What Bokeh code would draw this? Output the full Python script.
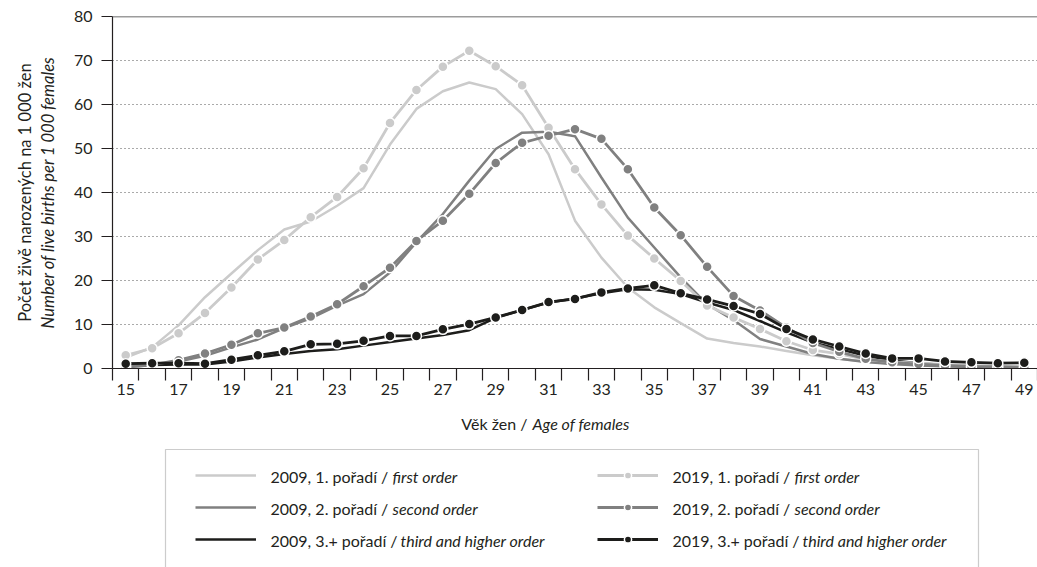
from bokeh.plotting import figure
from bokeh.layouts import column
from bokeh.models import (FixedTicker, Legend, LegendItem, Label, Span, Range1d,
                          LinearAxis, BoxAnnotation)
from bokeh.embed import file_html
from bokeh.resources import INLINE

# ---------------- data ----------------
ages = list(range(15, 50))
x_tick_labels = list(range(15, 50, 2))
y_ticks = list(range(0, 81, 10))

y2009_first = [2.5, 4.8, 9.8, 16.2, 21.6, 26.9, 31.6, 33.4, 37.0, 41.0, 50.9, 59.0,
               63.0, 65.0, 63.5, 57.8, 48.7, 33.6, 25.2, 18.4, 13.9, 10.3, 6.8, 5.8,
               5.0, 4.0, 3.0, 2.2, 1.6, 1.1, 0.8, 0.5, 0.3, 0.2, 0.1]
y2009_second = [0.3, 0.8, 1.6, 2.9, 4.8, 6.6, 9.2, 11.4, 14.3, 16.9, 21.8, 28.7,
                35.1, 42.7, 49.9, 53.6, 53.8, 52.8, 43.4, 34.3, 27.5, 20.7, 14.6, 11.0,
                6.7, 5.0, 3.3, 2.2, 1.5, 1.0, 0.7, 0.5, 0.3, 0.2, 0.1]
y2009_third = [0.8, 0.8, 0.9, 0.9, 1.6, 2.5, 3.3, 4.0, 4.4, 5.2, 6.0, 6.8,
               7.6, 8.7, 11.5, 13.3, 15.0, 15.9, 17.1, 18.0, 17.9, 16.9, 15.0, 13.3,
               10.8, 8.2, 5.9, 4.4, 2.9, 1.8, 1.2, 0.8, 0.5, 0.3, 0.2]
y2019_first = [3.0, 4.6, 8.0, 12.6, 18.4, 24.8, 29.2, 34.4, 39.0, 45.5, 55.8, 63.3,
               68.6, 72.2, 68.7, 64.4, 54.7, 45.3, 37.3, 30.2, 25.0, 19.9, 14.3, 11.6,
               9.0, 6.2, 4.2, 3.3, 2.1, 1.5, 1.2, 0.9, 0.7, 0.5, 0.4]
y2019_second = [0.4, 0.8, 1.9, 3.4, 5.4, 8.0, 9.3, 11.8, 14.6, 18.7, 22.9, 29.0,
                33.6, 39.7, 46.7, 51.3, 52.9, 54.4, 52.2, 45.3, 36.6, 30.3, 23.1, 16.5,
                13.2, 9.3, 5.8, 3.8, 2.2, 1.4, 1.0, 0.7, 0.5, 0.4, 0.3]
y2019_third = [1.1, 1.2, 1.2, 1.1, 2.0, 3.0, 3.9, 5.5, 5.6, 6.3, 7.4, 7.4,
               8.9, 10.1, 11.6, 13.3, 15.1, 15.8, 17.3, 18.2, 18.9, 17.1, 15.7, 14.2,
               12.4, 9.0, 6.6, 5.0, 3.4, 2.3, 2.3, 1.6, 1.4, 1.2, 1.3]

legend_plain = ["2009, 1. pořadí / ", "2009, 2. pořadí / ", "2009, 3.+ pořadí / ",
                "2019, 1. pořadí / ", "2019, 2. pořadí / ", "2019, 3.+ pořadí / "]
legend_italic = ["first order", "second order", "third and higher order",
                 "first order", "second order", "third and higher order"]
y_title_plain = "Počet živě narozených na 1 000 žen"
y_title_italic = "Number of live births per 1 000 females"
x_title_plain = "Věk žen /"
x_title_italic = "Age of females"

# ---------------- style ----------------
FONT = "Lato"
TXT = "#231f20"
LIGHT = "#cbcbcb"
MID = "#808080"
DARK = "#1d1d1b"
FS = "16px"
FS_Y = "16.5px"
W = 1037
H1 = 410
H2 = 567 - H1

# ================= main chart =================
p = figure(width=W, height=H1, output_backend="svg", toolbar_location=None,
           x_range=Range1d(14.5, 49.5), y_range=Range1d(0, 80),
           min_border_left=112, min_border_right=0, min_border_top=16,
           min_border_bottom=H1 - 368)
p.frame_align = False
p.outline_line_color = None
p.background_fill_color = "white"
p.border_fill_color = "white"

p.xgrid.grid_line_color = None
p.ygrid.ticker = FixedTicker(ticks=y_ticks[1:-1])
p.ygrid.grid_line_color = "#555555"
p.ygrid.grid_line_width = 1
p.ygrid.grid_line_dash = "1 3"

p.xaxis.ticker = FixedTicker(ticks=x_tick_labels,
                             minor_ticks=[a - 0.5 for a in ages] + [ages[-1] + 0.5])
p.xaxis.major_tick_line_color = None
p.xaxis.major_tick_out = 12
p.xaxis.major_tick_in = 0
p.xaxis.minor_tick_out = 12
p.xaxis.minor_tick_in = 0
p.xaxis.minor_tick_line_color = TXT
p.xaxis.minor_tick_line_width = 1.2
p.xaxis.major_label_standoff = 3

p.yaxis.ticker = FixedTicker(ticks=y_ticks)
p.yaxis.major_tick_out = 11
p.yaxis.major_tick_in = 0
p.yaxis.minor_tick_line_color = None
p.yaxis.major_tick_line_color = TXT
p.yaxis.major_tick_line_width = 1.2
p.yaxis.major_label_standoff = 9
p.yaxis.axis_label = y_title_italic
p.yaxis.axis_label_text_font_style = "italic"
p.yaxis.axis_label_standoff = 13

for ax in (p.xaxis, p.yaxis):
    ax.axis_line_color = TXT
    ax.axis_line_width = 1.2
    ax.major_label_text_font = FONT
    ax.major_label_text_font_size = FS
    ax.major_label_text_color = TXT
    ax.axis_label_text_font = FONT
    ax.axis_label_text_font_size = FS_Y
    ax.axis_label_text_color = TXT

outer = LinearAxis(axis_label=y_title_plain, ticker=FixedTicker(ticks=[]),
                   axis_line_color=None, major_tick_line_color=None,
                   minor_tick_line_color=None, major_tick_out=0, major_tick_in=0,
                   minor_tick_out=0, minor_tick_in=0,
                   major_label_text_font_size="0px", axis_label_standoff=0,
                   axis_label_text_font=FONT, axis_label_text_font_size=FS_Y,
                   axis_label_text_color=TXT, axis_label_text_font_style="normal")
p.add_layout(outer, "left")

p.add_layout(Span(location=y_ticks[-1], dimension="width", line_color="#3a3a3a",
                  line_width=1.5))

for ys, col in ((y2009_first, LIGHT), (y2009_second, MID), (y2009_third, DARK)):
    p.line(ages, ys, line_color=col, line_width=2.5)
for ys, col in ((y2019_first, LIGHT), (y2019_second, MID), (y2019_third, DARK)):
    p.line(ages, ys, line_color=col, line_width=2.8)
    p.scatter(ages, ys, size=10, fill_color=col, line_color="white", line_width=1.5)

# ================= legend / x title panel =================
q = figure(width=W, height=H2, output_backend="svg", toolbar_location=None,
           x_range=Range1d(0, 1), y_range=Range1d(0, 1),
           x_axis_location=None, y_axis_location=None,
           min_border_left=0, min_border_right=0,
           min_border_top=0, min_border_bottom=0)
q.frame_align = False
q.outline_line_color = None
q.grid.visible = False
q.background_fill_color = "white"
q.border_fill_color = "white"

# legend sample renderers: same series, but outside this panel's ranges (not visible)
proxA = [q.line(ages, ys, line_color=c, line_width=2.5)
         for ys, c in ((y2009_first, LIGHT), (y2009_second, MID), (y2009_third, DARK))]
proxB = []
for ys, c in ((y2019_first, LIGHT), (y2019_second, MID), (y2019_third, DARK)):
    ln = q.line(ages, ys, line_color=c, line_width=2.8)
    sc = q.scatter(ages, ys, size=10, fill_color=c, line_color="white", line_width=1.5)
    proxB.append([ln, sc])

common = dict(orientation="vertical", border_line_color=None, background_fill_alpha=0,
              padding=0, margin=0, spacing=14, glyph_width=61, glyph_height=18,
              label_height=18, label_width=1, label_standoff=0,
              label_text_font_size="1px")
legA = Legend(items=[LegendItem(label=" ", renderers=[r]) for r in proxA],
              location=(195, 19), **common)
legB = Legend(items=[LegendItem(label=" ", renderers=r) for r in proxB],
              location=(597, 19), **common)
q.add_layout(legA)
q.add_layout(legB)

q.add_layout(BoxAnnotation(left=165, right=978, top=39, bottom=H2 + 20,
                           left_units="canvas", right_units="canvas",
                           top_units="canvas", bottom_units="canvas",
                           fill_color=None, fill_alpha=0,
                           line_color="#555555", line_width=1.2))

row_y = [65.5, 97.5, 129.5]
col_x = [270, 672]
plain_w = [122, 122, 130]
for i in range(6):
    c, r = divmod(i, 3)
    q.add_layout(Label(x=col_x[c], y=row_y[r], x_units="canvas", y_units="canvas",
                       text=legend_plain[i], text_font=FONT, text_font_size=FS,
                       text_color=TXT, text_baseline="middle", text_align="left"))
    q.add_layout(Label(x=col_x[c] + plain_w[r], y=row_y[r], x_units="canvas",
                       y_units="canvas", text=legend_italic[i], text_font=FONT,
                       text_font_size=FS, text_font_style="italic", text_color=TXT,
                       text_baseline="middle", text_align="left"))

q.add_layout(Label(x=527, y=13, x_units="canvas", y_units="canvas",
                   text=x_title_plain, text_font=FONT, text_font_size=FS, text_color=TXT,
                   text_align="right", text_baseline="middle"))
q.add_layout(Label(x=532, y=13, x_units="canvas", y_units="canvas",
                   text=x_title_italic, text_font=FONT, text_font_size=FS,
                   text_font_style="italic", text_color=TXT,
                   text_align="left", text_baseline="middle"))

layout = column(p, q, spacing=0)
open("out.html", "w").write(file_html(layout, INLINE))
